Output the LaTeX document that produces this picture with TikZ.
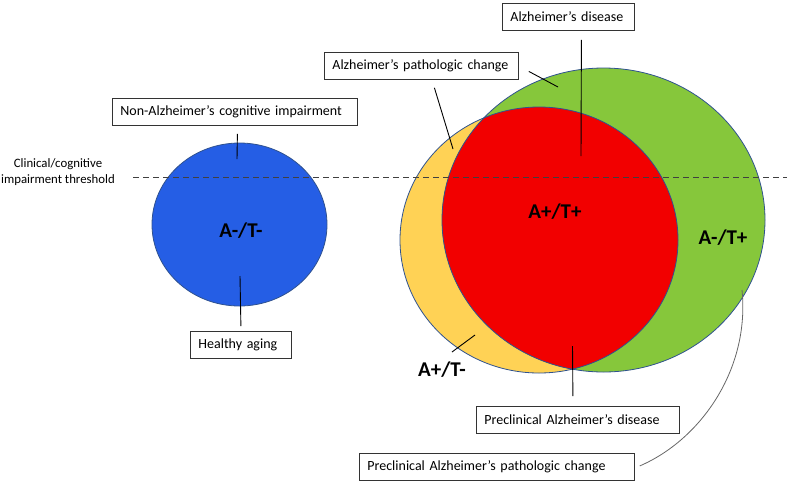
\documentclass[tikz,border=0pt]{standalone}
\usepackage{fontspec}
\setmainfont{Carlito}
\usepackage{tikz}
\usetikzlibrary{positioning,calc}
\definecolor{hablue}{RGB}{37,94,229}
\definecolor{amyyellow}{RGB}{255,210,85}
\definecolor{taugreen}{RGB}{134,199,59}
\definecolor{adred}{RGB}{242,0,0}
\definecolor{rimblue}{RGB}{47,82,143}

\begin{document}
\begin{tikzpicture}[x=1pt,y=-1pt,
  box/.style={draw=black!80, line width=0.8pt, fill=white, anchor=north west,
    minimum height=27pt, inner xsep=8pt, inner ysep=0pt, align=left,
    font=\fontsize{14}{16}\selectfont},
  pointer/.style={draw=black, line width=0.9pt},
  region/.style={draw=rimblue, line width=0.8pt},
  biglabel/.style={font=\fontsize{21}{24}\selectfont\bfseries}]
\useasboundingbox (0,0) rectangle (800,483);

\fill[hablue] (239.5,224.5) ellipse [x radius=87.5pt, y radius=81.5pt];
\draw[region] (239.5,224.5) ellipse [x radius=87.5pt, y radius=81.5pt];

\fill[amyyellow] (539,240) ellipse [x radius=139pt, y radius=133pt];
\fill[taugreen] (603.5,220) ellipse [x radius=161.5pt, y radius=152pt];
\begin{scope}
\clip (539,240) ellipse [x radius=139pt, y radius=133pt];
\fill[adred] (603.5,220) ellipse [x radius=161.5pt, y radius=152pt];
\end{scope}
\draw[region] (539,240) ellipse [x radius=139pt, y radius=133pt];
\draw[region] (603.5,220) ellipse [x radius=161.5pt, y radius=152pt];

\node[align=center, font=\fontsize{12.8}{15.5}\selectfont] (clin) at (58,172)
  {Clinical/cognitive\\impairment threshold};
\coordinate (thrL) at (133,177);
\coordinate (thrR) at (787,177);
\draw[black!75, line width=0.9pt, dash pattern=on 6pt off 4pt] (thrL) -- (thrR);

\node[biglabel] (amtm) at (241,231) {A-/T-};
\node[biglabel] (aptp) at (555,212) {A+/T+};
\node[biglabel] (amtp) at (723,238) {A-/T+};
\node[biglabel] (aptm) at (442,370) {A+/T-};

\node[box, text width=229pt] (nonad) at (112,98) {Non-Alzheimer's cognitive impairment};
\node[box, text width=85pt] (healthy) at (190,331) {Healthy aging};
\node[box, text width=178pt] (adpath) at (324,52) {Alzheimer's pathologic change};
\node[box, text width=116pt] (addis) at (502,3) {Alzheimer's disease};
\node[box, text width=187pt] (precad) at (476,406) {Preclinical Alzheimer's disease};
\node[box, text width=259pt] (precpath) at (359,453) {Preclinical Alzheimer's pathologic change};

\coordinate (nonadtip) at (237,159);
\coordinate (healthytip) at (240,276);
\coordinate (adpathtipA) at (453,149);
\coordinate (adpathtipB) at (558,87);
\coordinate (addistip) at (581,156);
\coordinate (precadtip) at (572.5,346);
\coordinate (precpathtip) at (742,290);
\coordinate (aptmtip) at (475,335);

\draw[pointer] ([xshift=2.5pt,yshift=-8pt]nonad.south) -- (nonadtip);
\draw[pointer] ([yshift=5pt]healthy.north) -- (healthytip);
\draw[pointer] ([xshift=13pt,yshift=-8pt]adpath.south) -- (adpathtipA);
\draw[pointer] ([xshift=10pt,yshift=-5.5pt]adpath.east) -- (adpathtipB);
\draw[pointer] ([xshift=13pt,yshift=-9pt]addis.south) -- (addistip);
\draw[pointer] ([xshift=-5pt,yshift=10pt]precad.north) -- (precadtip);
\draw[pointer] ([xshift=10pt,yshift=18pt]aptm.center) -- (aptmtip);
\draw[black!60, line width=0.8pt] ([xshift=5pt,yshift=1pt]precpath.east)
  .. controls (700,440) and (750,370) .. (precpathtip);
\end{tikzpicture}
\end{document}
